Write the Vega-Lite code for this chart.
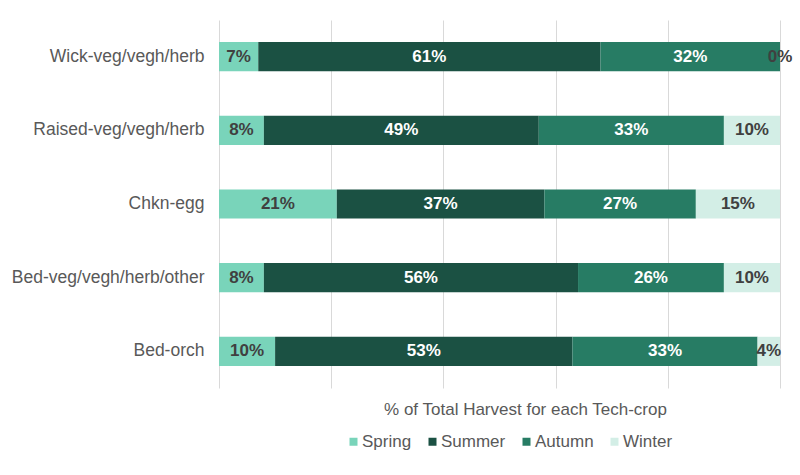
{
  "$schema": "https://vega.github.io/schema/vega-lite/v6.json",
  "autosize": {"type": "none"},
  "width": 561,
  "height": 368,
  "padding": {"left": 219, "top": 20, "right": 20, "bottom": 87},
  "background": "white",
  "config": {
    "view": {"stroke": null},
    "font": "Liberation Sans"
  },
  "data": {
    "values": [
      {"crop": "Wick-veg/vegh/herb", "season": "Spring", "share": 0.07},
      {"crop": "Wick-veg/vegh/herb", "season": "Summer", "share": 0.61},
      {"crop": "Wick-veg/vegh/herb", "season": "Autumn", "share": 0.32},
      {"crop": "Wick-veg/vegh/herb", "season": "Winter", "share": 0.0},
      {"crop": "Raised-veg/vegh/herb", "season": "Spring", "share": 0.08},
      {"crop": "Raised-veg/vegh/herb", "season": "Summer", "share": 0.49},
      {"crop": "Raised-veg/vegh/herb", "season": "Autumn", "share": 0.33},
      {"crop": "Raised-veg/vegh/herb", "season": "Winter", "share": 0.10},
      {"crop": "Chkn-egg", "season": "Spring", "share": 0.21},
      {"crop": "Chkn-egg", "season": "Summer", "share": 0.37},
      {"crop": "Chkn-egg", "season": "Autumn", "share": 0.27},
      {"crop": "Chkn-egg", "season": "Winter", "share": 0.15},
      {"crop": "Bed-veg/vegh/herb/other", "season": "Spring", "share": 0.08},
      {"crop": "Bed-veg/vegh/herb/other", "season": "Summer", "share": 0.56},
      {"crop": "Bed-veg/vegh/herb/other", "season": "Autumn", "share": 0.26},
      {"crop": "Bed-veg/vegh/herb/other", "season": "Winter", "share": 0.10},
      {"crop": "Bed-orch", "season": "Spring", "share": 0.10},
      {"crop": "Bed-orch", "season": "Summer", "share": 0.53},
      {"crop": "Bed-orch", "season": "Autumn", "share": 0.33},
      {"crop": "Bed-orch", "season": "Winter", "share": 0.04}
    ]
  },
  "transform": [
    {"calculate": "indexof(['Spring', 'Summer', 'Autumn', 'Winter'], datum.season)", "as": "seasonOrder"}
  ],
  "encoding": {
    "y": {
      "field": "crop",
      "type": "nominal",
      "sort": ["Wick-veg/vegh/herb", "Raised-veg/vegh/herb", "Chkn-egg", "Bed-veg/vegh/herb/other", "Bed-orch"],
      "scale": {"paddingInner": 0.605, "paddingOuter": 0.3},
      "axis": {
        "title": null,
        "ticks": false,
        "domain": false,
        "grid": false,
        "labelFontSize": 17.5,
        "labelColor": "#595959",
        "labelPadding": 15,
        "labelLimit": 300,
        "labelFont": "Liberation Sans"
      }
    },
    "order": {"field": "seasonOrder", "type": "quantitative"}
  },
  "layer": [
    {
      "mark": {"type": "bar"},
      "encoding": {
        "x": {
          "field": "share",
          "type": "quantitative",
          "stack": "zero",
          "scale": {"domain": [0, 1], "nice": false},
          "axis": {
            "title": "% of Total Harvest for each Tech-crop",
            "titleFontSize": 17,
            "titleFontWeight": "normal",
            "titleColor": "#595959",
            "titleFont": "Liberation Sans",
            "titlePadding": 13,
            "titleX": 306,
            "labels": false,
            "ticks": false,
            "domain": false,
            "grid": true,
            "gridColor": "#d9d9d9",
            "gridWidth": 1,
            "values": [0, 0.2, 0.4, 0.6, 0.8, 1]
          }
        },
        "color": {
          "field": "season",
          "type": "nominal",
          "sort": ["Spring", "Summer", "Autumn", "Winter"],
          "scale": {
            "domain": ["Spring", "Summer", "Autumn", "Winter"],
            "range": ["#79d4ba", "#1b5143", "#277c64", "#d3eee6"]
          },
          "legend": {
            "title": null,
            "orient": "none",
            "direction": "horizontal",
            "legendX": 126,
            "legendY": 413,
            "symbolType": "square",
            "symbolSize": 64,
            "symbolStrokeWidth": 0,
            "labelFontSize": 17,
            "labelColor": "#595959",
            "labelFont": "Liberation Sans",
            "labelOffset": 0,
            "columnPadding": 12
          }
        }
      }
    },
    {
      "mark": {"type": "text", "fontSize": 17, "fontWeight": "bold", "font": "Liberation Sans", "align": "center", "baseline": "middle"},
      "encoding": {
        "x": {
          "field": "share",
          "type": "quantitative",
          "stack": "zero",
          "bandPosition": 0.5
        },
        "detail": {"field": "season", "type": "nominal"},
        "text": {"field": "share", "type": "quantitative", "format": ".0%"},
        "color": {
          "condition": {"test": "datum.season === 'Summer' || datum.season === 'Autumn'", "value": "white"},
          "value": "#404040"
        }
      }
    }
  ]
}
